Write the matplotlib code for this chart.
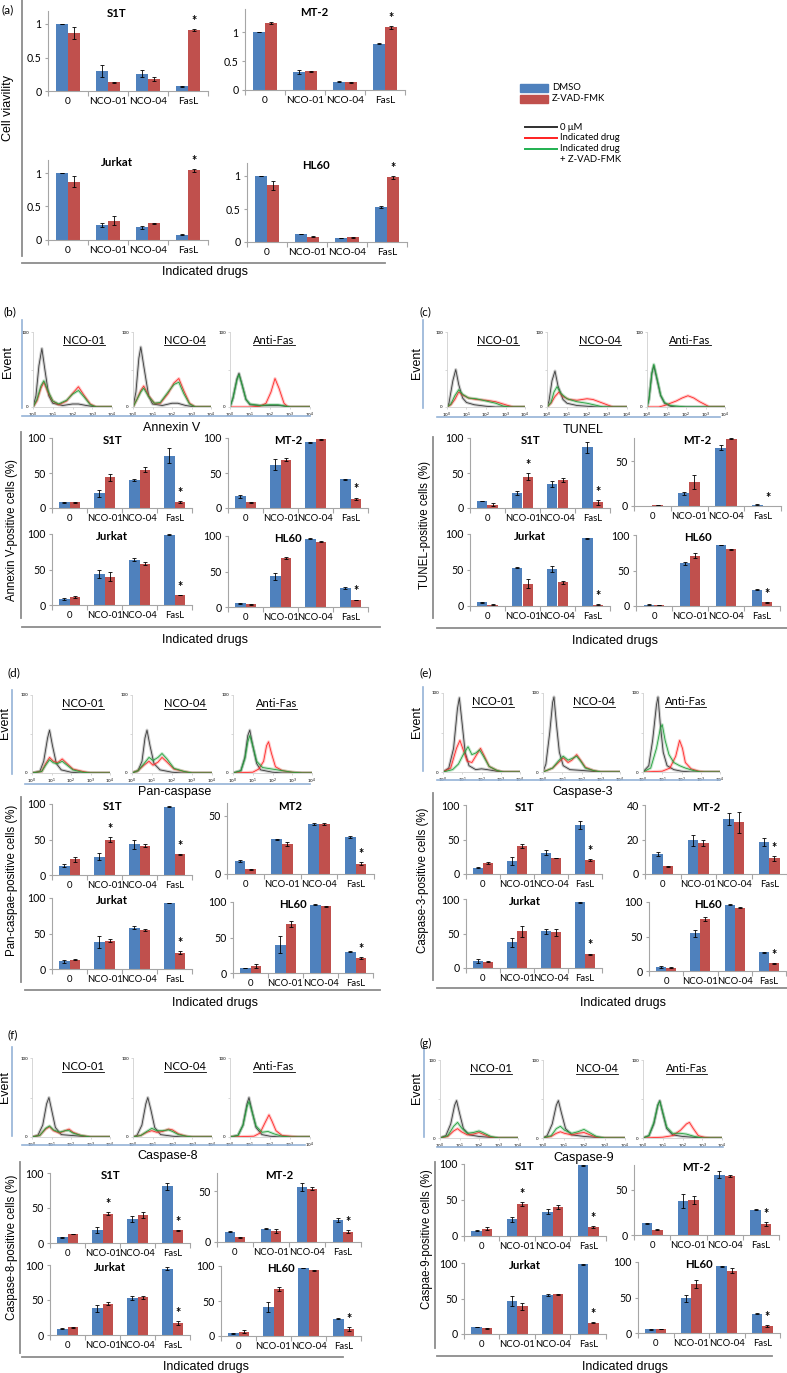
import numpy as np
import matplotlib
matplotlib.use("Agg")
import matplotlib.pyplot as plt
from matplotlib.lines import Line2D
from matplotlib.patches import Rectangle

# ---------------- data ----------------
drugs = ["0", "NCO-01", "NCO-04", "FasL"]
cells = ["S1T", "MT-2", "Jurkat", "HL60"]
hist_cols = ["NCO-01", "NCO-04", "Anti-Fas"]

# (a) cell viability
via_dmso = {"S1T": [1.00, 0.30, 0.26, 0.07], "MT-2": [1.00, 0.31, 0.14, 0.80],
            "Jurkat": [1.00, 0.23, 0.19, 0.08], "HL60": [1.00, 0.12, 0.06, 0.53]}
via_dmso_err = {"S1T": [0.005, 0.09, 0.05, 0.01], "MT-2": [0.005, 0.03, 0.01, 0.01],
                "Jurkat": [0.005, 0.03, 0.02, 0.01], "HL60": [0.005, 0.005, 0.005, 0.01]}
via_zvad = {"S1T": [0.86, 0.13, 0.18, 0.91], "MT-2": [1.16, 0.32, 0.13, 1.08],
            "Jurkat": [0.87, 0.29, 0.25, 1.04], "HL60": [0.86, 0.08, 0.07, 0.98]}
via_zvad_err = {"S1T": [0.09, 0.005, 0.03, 0.02], "MT-2": [0.02, 0.01, 0.005, 0.02],
                "Jurkat": [0.08, 0.07, 0.01, 0.02], "HL60": [0.07, 0.005, 0.01, 0.02]}

# (b) Annexin V
anx_dmso = {"S1T": [8, 21, 40, 75], "MT-2": [17, 62, 94, 41],
            "Jurkat": [9, 44, 64, 99], "HL60": [5, 43, 96, 27]}
anx_dmso_err = {"S1T": [1, 5, 1, 11], "MT-2": [2, 8, 1, 1],
                "Jurkat": [1.5, 6, 2, 0.5], "HL60": [0.5, 5, 0.5, 1]}
anx_zvad = {"S1T": [8, 44, 55, 8], "MT-2": [8, 69, 98, 13],
            "Jurkat": [11, 40, 58, 14], "HL60": [4, 69, 92, 10]}
anx_zvad_err = {"S1T": [1, 5, 4, 1.5], "MT-2": [0.5, 2, 1, 2],
                "Jurkat": [1, 6, 2, 0.5], "HL60": [0.5, 2, 0.5, 0.5]}

# (c) TUNEL
tun_dmso = {"S1T": [10, 22, 34, 87], "MT-2": [0.3, 14, 65, 1.5],
            "Jurkat": [5, 53, 51, 94], "HL60": [2, 60, 86, 23]}
tun_dmso_err = {"S1T": [0.5, 3, 4, 8], "MT-2": [0.2, 2, 3, 0.5],
                "Jurkat": [1, 0.5, 4, 0.5], "HL60": [0.5, 2, 0.5, 1]}
tun_zvad = {"S1T": [5, 45, 40, 8], "MT-2": [0.8, 27, 75, 0.2],
            "Jurkat": [2, 31, 33, 2], "HL60": [1.5, 71, 80, 5]}
tun_zvad_err = {"S1T": [2, 5, 3, 3], "MT-2": [0.2, 8, 1, 0.1],
                "Jurkat": [0.5, 6, 2, 0.5], "HL60": [0.3, 3, 0.5, 0.5]}

# (d) Pan-caspase
pan_dmso = {"S1T": [13, 26, 43, 96], "MT-2": [11, 30, 43, 32],
            "Jurkat": [11, 38, 58, 93], "HL60": [7, 40, 96, 30]}
pan_dmso_err = {"S1T": [2, 5, 6, 0.5], "MT-2": [1, 0.5, 1, 1],
                "Jurkat": [2, 9, 2, 0.5], "HL60": [0.5, 12, 0.5, 0.5]}
pan_zvad = {"S1T": [22, 50, 41, 29], "MT-2": [4, 26, 43, 9],
            "Jurkat": [13, 40, 55, 23], "HL60": [10, 69, 94, 21]}
pan_zvad_err = {"S1T": [3, 3, 2, 1], "MT-2": [0.5, 2, 1, 1],
                "Jurkat": [0.5, 2, 2, 2], "HL60": [3, 4, 0.5, 1]}

# (e) Caspase-3
c3_dmso = {"S1T": [9, 19, 31, 71], "MT-2": [11.5, 19.5, 32, 18.5],
           "Jurkat": [10, 37, 53, 95], "HL60": [6, 55, 96, 27]}
c3_dmso_err = {"S1T": [1, 6, 4, 6], "MT-2": [1, 3, 3.5, 2.5],
               "Jurkat": [3, 6, 3, 0.5], "HL60": [1.5, 5, 0.5, 0.5]}
c3_zvad = {"S1T": [16, 40, 23, 20], "MT-2": [4.5, 18, 30, 9],
           "Jurkat": [9, 53, 52, 20], "HL60": [5, 75, 92, 11]}
c3_zvad_err = {"S1T": [1, 3, 0.5, 1.5], "MT-2": [0.3, 2, 6, 1.5],
               "Jurkat": [1, 8, 5, 1], "HL60": [0.5, 3, 1, 0.5]}

# (f) Caspase-8
c8_dmso = {"S1T": [8, 19, 34, 81], "MT-2": [10, 13, 54, 22],
           "Jurkat": [9, 38, 53, 95], "HL60": [4, 42, 97, 25]}
c8_dmso_err = {"S1T": [1, 4, 4, 5], "MT-2": [0.5, 0.5, 4, 2],
               "Jurkat": [0.5, 5, 3, 2], "HL60": [0.5, 7, 0.5, 0.5]}
c8_zvad = {"S1T": [13, 42, 40, 18], "MT-2": [4.5, 11, 52, 10],
           "Jurkat": [11, 45, 54, 17], "HL60": [6, 67, 94, 10]}
c8_zvad_err = {"S1T": [0.5, 2, 4, 0.5], "MT-2": [0.3, 2, 1.5, 1.5],
               "Jurkat": [1, 1.5, 2, 2.5], "HL60": [2, 3, 0.5, 3]}

# (g) Caspase-9
c9_dmso = {"S1T": [7.5, 23, 34, 98], "MT-2": [13, 38, 67, 28],
           "Jurkat": [10, 47, 55, 98], "HL60": [5, 49, 94, 27]}
c9_dmso_err = {"S1T": [0.5, 3, 4, 0.5], "MT-2": [0.5, 8, 4, 0.5],
               "Jurkat": [0.5, 7, 2, 0.5], "HL60": [0.5, 5, 0.5, 0.5]}
c9_zvad = {"S1T": [10, 44, 40, 12], "MT-2": [6, 39, 66, 12],
           "Jurkat": [8, 39, 56, 16], "HL60": [5.5, 69, 88, 10]}
c9_zvad_err = {"S1T": [2, 3, 3, 1.5], "MT-2": [0.5, 4, 1, 2],
               "Jurkat": [0.5, 5, 0.5, 0.5], "HL60": [0.5, 5, 3, 1.5]}

# significance marks: (drug index, series index 0=DMSO 1=Z-VAD)
stars_fasl = {c: [(3, 1)] for c in cells}
stars_both = {"S1T": [(1, 1), (3, 1)], "MT-2": [(3, 1)], "Jurkat": [(3, 1)], "HL60": [(3, 1)]}

# flow cytometry histograms: (log10 intensity, events) for
# k = 0 uM, r = indicated drug, g = drug + Z-VAD-FMK
hist_anx = {
    "NCO-01": {
        "k": [(0, 0), (0.15, 15), (0.3, 55), (0.45, 78), (0.6, 50), (0.8, 15), (1.0, 5), (1.5, 2), (2.0, 4), (2.3, 4), (2.7, 2), (3.2, 0), (4, 0)],
        "r": [(0, 0), (0.2, 8), (0.4, 25), (0.55, 33), (0.75, 20), (1.0, 8), (1.3, 3), (1.7, 8), (2.0, 18), (2.3, 27), (2.6, 15), (2.9, 4), (3.2, 0), (4, 0)],
        "g": [(0, 0), (0.2, 10), (0.4, 28), (0.55, 35), (0.75, 22), (1.0, 8), (1.3, 4), (1.7, 9), (2.0, 17), (2.3, 22), (2.6, 13), (2.9, 3), (3.2, 0), (4, 0)]},
    "NCO-04": {
        "k": [(0, 0), (0.15, 20), (0.3, 65), (0.4, 80), (0.55, 55), (0.8, 15), (1.0, 4), (1.5, 2), (2.0, 5), (2.3, 5), (2.7, 2), (3.2, 0), (4, 0)],
        "r": [(0, 0), (0.2, 10), (0.4, 22), (0.55, 28), (0.8, 15), (1.1, 5), (1.4, 5), (1.8, 18), (2.1, 32), (2.35, 38), (2.6, 22), (2.9, 5), (3.2, 0), (4, 0)],
        "g": [(0, 0), (0.2, 10), (0.4, 20), (0.55, 25), (0.8, 14), (1.1, 5), (1.4, 6), (1.8, 20), (2.1, 30), (2.35, 33), (2.6, 18), (2.9, 4), (3.2, 0), (4, 0)]},
    "Anti-Fas": {
        "k": [(0, 0), (0.15, 12), (0.35, 38), (0.45, 45), (0.6, 30), (0.8, 10), (1.0, 3), (1.5, 2), (2.5, 2), (3.0, 0), (4, 0)],
        "r": [(0, 0), (1.0, 0), (1.5, 1), (1.8, 5), (2.05, 20), (2.25, 38), (2.45, 25), (2.7, 5), (2.9, 0), (4, 0)],
        "g": [(0, 0), (0.15, 12), (0.35, 36), (0.45, 43), (0.6, 30), (0.8, 10), (1.0, 4), (1.5, 2), (2.0, 3), (2.4, 3), (2.8, 1), (3.0, 0), (4, 0)]},
}
hist_tun = {
    "NCO-01": {
        "k": [(0, 0), (0.1, 5), (0.3, 35), (0.45, 50), (0.6, 30), (0.8, 12), (1.0, 6), (1.4, 3), (2.0, 1), (2.5, 0), (4, 0)],
        "r": [(0, 0), (0.2, 3), (0.4, 10), (0.6, 20), (0.8, 16), (1.1, 12), (1.5, 10), (2.0, 9), (2.5, 7), (3.0, 3), (3.4, 0), (4, 0)],
        "g": [(0, 0), (0.2, 4), (0.4, 15), (0.6, 23), (0.8, 17), (1.1, 12), (1.5, 11), (2.0, 8), (2.5, 5), (2.9, 1), (3.2, 0), (4, 0)]},
    "NCO-04": {
        "k": [(0, 0), (0.1, 8), (0.25, 35), (0.4, 48), (0.55, 28), (0.8, 10), (1.0, 5), (1.5, 2), (2.0, 1), (2.5, 0), (4, 0)],
        "r": [(0, 0), (0.2, 5), (0.4, 14), (0.6, 20), (0.8, 14), (1.1, 10), (1.5, 9), (2.0, 11), (2.3, 10), (2.7, 6), (3.0, 3), (3.3, 0), (4, 0)],
        "g": [(0, 0), (0.2, 6), (0.35, 20), (0.5, 27), (0.7, 18), (1.0, 11), (1.5, 7), (2.0, 5), (2.5, 2), (2.8, 0), (4, 0)]},
    "Anti-Fas": {
        "k": [(0, 0), (0.1, 10), (0.25, 45), (0.35, 55), (0.5, 38), (0.7, 15), (0.9, 5), (1.2, 1), (1.5, 0), (4, 0)],
        "r": [(0, 0), (0.6, 0), (0.9, 2), (1.2, 5), (1.5, 8), (1.8, 12), (2.1, 15), (2.4, 12), (2.7, 7), (3.0, 3), (3.2, 0), (4, 0)],
        "g": [(0, 0), (0.1, 10), (0.25, 45), (0.35, 57), (0.5, 40), (0.7, 16), (0.9, 6), (1.2, 2), (1.6, 1), (2.0, 0), (4, 0)]},
}
hist_pan = {
    "NCO-01": {
        "k": [(0, 0), (0.4, 2), (0.6, 15), (0.8, 45), (0.9, 55), (1.05, 35), (1.25, 12), (1.5, 4), (2.0, 1), (2.5, 0), (4, 0)],
        "r": [(0, 0), (0.5, 2), (0.7, 12), (0.9, 20), (1.1, 15), (1.3, 13), (1.55, 18), (1.8, 12), (2.1, 5), (2.6, 2), (3.0, 0), (4, 0)],
        "g": [(0, 0), (0.5, 2), (0.7, 10), (0.9, 17), (1.1, 13), (1.3, 12), (1.55, 15), (1.8, 10), (2.1, 4), (2.6, 1), (3.0, 0), (4, 0)]},
    "NCO-04": {
        "k": [(0, 0), (0.3, 3), (0.5, 15), (0.65, 45), (0.75, 55), (0.9, 35), (1.1, 12), (1.4, 4), (2.0, 1), (2.5, 0), (4, 0)],
        "r": [(0, 0), (0.3, 3), (0.6, 10), (0.85, 15), (1.05, 10), (1.3, 14), (1.5, 20), (1.75, 14), (2.1, 5), (2.6, 2), (3.0, 0), (4, 0)],
        "g": [(0, 0), (0.3, 3), (0.6, 12), (0.85, 20), (1.05, 16), (1.3, 20), (1.5, 25), (1.75, 18), (2.1, 6), (2.6, 2), (3.0, 0), (4, 0)]},
    "Anti-Fas": {
        "k": [(0, 0), (0.4, 3), (0.6, 20), (0.75, 48), (0.85, 55), (1.0, 35), (1.2, 12), (1.4, 4), (2.0, 1), (2.5, 0), (4, 0)],
        "r": [(0, 0), (1.0, 1), (1.3, 5), (1.55, 15), (1.7, 35), (1.8, 40), (1.95, 25), (2.15, 8), (2.5, 3), (3.0, 1), (3.5, 0), (4, 0)],
        "g": [(0, 0), (0.4, 3), (0.6, 18), (0.75, 40), (0.85, 48), (1.0, 35), (1.2, 15), (1.5, 7), (2.0, 5), (2.5, 3), (3.0, 1), (3.5, 0), (4, 0)]},
}
hist_c3 = {
    "NCO-01": {
        "k": [(0, 0), (0.3, 5), (0.55, 30), (0.75, 80), (0.85, 94), (1.0, 60), (1.15, 25), (1.35, 8), (1.7, 3), (2.0, 4), (2.3, 3), (2.8, 1), (3.2, 0), (4, 0)],
        "r": [(0, 0), (0.4, 5), (0.7, 30), (0.88, 40), (1.05, 28), (1.25, 14), (1.5, 12), (1.75, 22), (1.95, 30), (2.15, 20), (2.4, 7), (2.8, 2), (3.1, 0), (4, 0)],
        "g": [(0, 0), (0.5, 3), (0.8, 10), (1.05, 22), (1.3, 32), (1.5, 22), (1.7, 24), (1.9, 28), (2.1, 20), (2.4, 7), (2.8, 2), (3.1, 0), (4, 0)]},
    "NCO-04": {
        "k": [(0, 0), (0.15, 10), (0.35, 50), (0.5, 88), (0.57, 95), (0.7, 60), (0.85, 25), (1.05, 8), (1.4, 3), (2.0, 2), (2.5, 1), (3.0, 0), (4, 0)],
        "r": [(0, 0), (0.5, 5), (0.8, 12), (1.05, 18), (1.3, 12), (1.5, 15), (1.75, 22), (1.95, 15), (2.2, 6), (2.6, 2), (3.0, 0), (4, 0)],
        "g": [(0, 0), (0.5, 5), (0.8, 14), (1.05, 20), (1.3, 15), (1.5, 17), (1.75, 20), (1.95, 14), (2.2, 5), (2.6, 2), (3.0, 0), (4, 0)]},
    "Anti-Fas": {
        "k": [(0, 0), (0.3, 8), (0.5, 40), (0.7, 85), (0.78, 95), (0.9, 60), (1.05, 25), (1.25, 8), (1.6, 3), (2.0, 1), (2.5, 0), (4, 0)],
        "r": [(0, 0), (1.0, 1), (1.4, 5), (1.7, 20), (1.9, 40), (2.05, 30), (2.2, 12), (2.5, 4), (2.9, 1), (3.2, 0), (4, 0)],
        "g": [(0, 0), (0.4, 5), (0.7, 30), (0.9, 55), (1.0, 60), (1.15, 40), (1.35, 22), (1.6, 12), (1.9, 8), (2.2, 5), (2.6, 2), (3.0, 0), (4, 0)]},
}
hist_c8 = {
    "NCO-01": {
        "k": [(0, 0), (0.3, 2), (0.55, 15), (0.75, 42), (0.87, 50), (1.0, 35), (1.2, 12), (1.5, 3), (2.0, 2), (2.5, 1), (3, 0), (4, 0)],
        "r": [(0, 0), (0.4, 2), (0.7, 10), (0.9, 13), (1.1, 8), (1.4, 5), (1.7, 8), (1.9, 10), (2.1, 6), (2.5, 2), (3, 0), (4, 0)],
        "g": [(0, 0), (0.4, 2), (0.7, 11), (0.9, 14), (1.1, 9), (1.4, 6), (1.7, 8), (1.9, 8), (2.1, 5), (2.5, 2), (3, 0), (4, 0)]},
    "NCO-04": {
        "k": [(0, 0), (0.2, 2), (0.45, 15), (0.65, 42), (0.75, 50), (0.9, 35), (1.1, 12), (1.4, 3), (2.0, 1), (2.5, 0), (4, 0)],
        "r": [(0, 0), (0.4, 2), (0.7, 6), (0.95, 8), (1.2, 6), (1.5, 7), (1.8, 10), (2.0, 9), (2.3, 4), (2.7, 1), (3, 0), (4, 0)],
        "g": [(0, 0), (0.4, 2), (0.7, 7), (0.95, 11), (1.2, 8), (1.5, 8), (1.8, 9), (2.0, 7), (2.3, 3), (2.7, 1), (3, 0), (4, 0)]},
    "Anti-Fas": {
        "k": [(0, 0), (0.4, 2), (0.65, 15), (0.85, 42), (0.95, 50), (1.1, 33), (1.3, 12), (1.6, 3), (2.0, 1), (2.5, 0), (4, 0)],
        "r": [(0, 0), (1.2, 1), (1.5, 5), (1.75, 18), (1.95, 28), (2.1, 20), (2.3, 8), (2.6, 2), (3.0, 1), (3.4, 0), (4, 0)],
        "g": [(0, 0), (0.4, 2), (0.65, 15), (0.85, 38), (0.95, 45), (1.1, 32), (1.3, 14), (1.6, 6), (1.9, 7), (2.2, 4), (2.6, 1), (3.0, 0), (4, 0)]},
}
hist_c9 = {
    "NCO-01": {
        "k": [(0, 0), (0.3, 3), (0.55, 18), (0.75, 42), (0.85, 48), (1.0, 32), (1.2, 12), (1.5, 4), (2.0, 2), (2.5, 1), (3, 0), (4, 0)],
        "r": [(0, 0), (0.4, 2), (0.7, 9), (0.9, 12), (1.1, 8), (1.4, 4), (1.7, 5), (2.0, 7), (2.2, 5), (2.6, 1), (3, 0), (4, 0)],
        "g": [(0, 0), (0.4, 3), (0.7, 15), (0.9, 20), (1.1, 13), (1.4, 6), (1.7, 7), (2.0, 9), (2.2, 7), (2.6, 2), (3, 0), (4, 0)]},
    "NCO-04": {
        "k": [(0, 0), (0.2, 3), (0.45, 18), (0.65, 42), (0.75, 48), (0.9, 32), (1.1, 12), (1.4, 4), (2.0, 2), (2.5, 1), (3, 0), (4, 0)],
        "r": [(0, 0), (0.4, 2), (0.65, 6), (0.85, 8), (1.05, 6), (1.4, 4), (1.7, 6), (2.0, 7), (2.2, 5), (2.6, 1), (3, 0), (4, 0)],
        "g": [(0, 0), (0.4, 3), (0.65, 12), (0.85, 15), (1.05, 10), (1.4, 6), (1.7, 8), (2.0, 11), (2.2, 8), (2.6, 2), (3, 0), (4, 0)]},
    "Anti-Fas": {
        "k": [(0, 0), (0.3, 3), (0.55, 18), (0.75, 42), (0.85, 48), (1.0, 32), (1.2, 12), (1.5, 4), (2.0, 2), (2.5, 1), (3, 0), (4, 0)],
        "r": [(0, 0), (1.0, 1), (1.5, 3), (1.9, 10), (2.2, 18), (2.35, 20), (2.55, 12), (2.8, 3), (3.1, 1), (3.4, 0), (4, 0)],
        "g": [(0, 0), (0.3, 3), (0.55, 20), (0.75, 42), (0.85, 47), (1.0, 33), (1.2, 14), (1.5, 6), (1.9, 6), (2.2, 5), (2.6, 2), (3, 0), (4, 0)]},
}

# ---------------- style ----------------
BLUE = "#4F81BD"
RED = "#C0504D"
AXGRAY = "#a6a6a6"
LINEGRAY = "#8c8c8c"
LIGHTBLUE = "#95b3d7"
CAL = ["Lato", "DejaVu Sans"]
ARIAL = ["Liberation Sans", "DejaVu Sans"]
plt.rcParams["font.family"] = CAL

W, H = 787, 1373
fig = plt.figure(figsize=(W / 100, H / 100), dpi=100)
underlined = []


def box(l, t, r, b):
    return fig.add_axes([l / W, 1 - b / H, (r - l) / W, (b - t) / H])


def ftext(x, y, s, **kw):
    return fig.text(x / W, 1 - y / H, s, **kw)


def fline(xs, ys, **kw):
    fig.add_artist(Line2D([x / W for x in xs], [1 - y / H for y in ys],
                          transform=fig.transFigure, **kw))


def bar_chart(geom, step, cell, title, dmso, dmso_err, zvad, zvad_err, stars, xfs=6.8):
    l, r, y0, yref, vref, ymax = geom
    top = y0 - (y0 - yref) / vref * ymax
    ax = box(l, top, r, y0)
    x = np.arange(len(drugs))
    w = 0.29
    ekw = dict(lw=0.6, capsize=1.3, capthick=0.6, ecolor="black")
    ax.bar(x - w / 2, dmso[cell], w, yerr=dmso_err[cell], color=BLUE, error_kw=ekw, zorder=2)
    ax.bar(x + w / 2, zvad[cell], w, yerr=zvad_err[cell], color=RED, error_kw=ekw, zorder=2)
    ax.set_xlim(-0.5, 3.5)
    ax.set_ylim(0, ymax)
    ticks = np.arange(0, ymax + 1e-9, step)
    ax.set_yticks(ticks)
    ax.set_yticklabels([("%g" % t) for t in ticks], fontsize=7.6)
    ax.set_xticks(x)
    ax.set_xticklabels(drugs, fontsize=xfs)
    ax.set_xticks(np.arange(-0.5, 4, 1), minor=True)
    ax.tick_params(axis="x", which="major", length=0, pad=4.5)
    ax.tick_params(axis="x", which="minor", length=3.5, color=AXGRAY, width=0.8)
    ax.tick_params(axis="y", length=2.5, color=AXGRAY, width=0.8, pad=2)
    for s in ("top", "right"):
        ax.spines[s].set_visible(False)
    for s in ("left", "bottom"):
        ax.spines[s].set_color(AXGRAY)
        ax.spines[s].set_linewidth(0.8)
    ax.patch.set_alpha(0)
    ax.text(0.43, 0.96, title, transform=ax.transAxes, ha="center", va="center",
            fontsize=8.2, weight="bold")
    for ci, si in stars.get(cell, []):
        vals = zvad if si == 1 else dmso
        errs = zvad_err if si == 1 else dmso_err
        ax.annotate("*", (ci + (w / 2 if si == 1 else -w / 2), vals[cell][ci] + errs[cell][ci]),
                    xytext=(0, 1.5), textcoords="offset points", ha="center", va="bottom",
                    fontsize=9, weight="bold", annotation_clip=False)
    return ax


def bar_block(geoms, steps, titles, dmso, dmso_err, zvad, zvad_err, stars, xfs=6.8):
    for cell in cells:
        bar_chart(geoms[cell], steps.get(cell, 50), cell, titles.get(cell, cell),
                  dmso, dmso_err, zvad, zvad_err, stars, xfs)


def hist_block(data, y0, y100, xs_px, tx=(0.65, 0.66, 0.55)):
    for col, (l, r), fx in zip(hist_cols, xs_px, tx):
        ax = box(l, y100, r, y0)
        for key, color in (("k", "#3a3a3a"), ("r", "#ff2a2a"), ("g", "#23a03c")):
            pts = np.array(data[col][key], dtype=float)
            xv = 10 ** pts[:, 0]
            ax.plot(xv, pts[:, 1], color=color, lw=2.2, alpha=0.25, solid_joinstyle="round")
            ax.plot(xv, pts[:, 1], color=color, lw=0.6)
        ax.set_xscale("log")
        ax.set_xlim(1, 1e4)
        ax.set_ylim(0, 100)
        ax.minorticks_off()
        ax.set_xticks([1, 10, 100, 1000, 10000])
        ax.set_xticklabels([r"$10^{%d}$" % k for k in range(5)], fontsize=3.2)
        ax.set_yticks([0, 50, 100])
        ax.set_yticklabels(["0", "", "100"], fontsize=3.2)
        ax.tick_params(length=1.5, width=0.5, color="#c8c8c8", pad=1.5)
        for s in ("top", "right"):
            ax.spines[s].set_visible(False)
        for s in ("left", "bottom"):
            ax.spines[s].set_color("#d0d0d0")
            ax.spines[s].set_linewidth(0.6)
        ax.patch.set_alpha(0)
        t = ax.text(fx, 0.89, col, transform=ax.transAxes, ha="center", va="center", fontsize=8)
        underlined.append(t)


# ---------------- (a) viability ----------------
ftext(2, 10, "(a)", fontsize=8.5, va="center")
fline([22, 22], [0, 256], color=LINEGRAY, lw=1.3)
fline([22, 385], [263, 263], color=LINEGRAY, lw=1.3)
ftext(8, 108, "Cell viavility", rotation=90, ha="center", va="center", fontsize=9, family=ARIAL)
ftext(205, 272, "Indicated drugs", ha="center", va="center", fontsize=9, family=ARIAL)
geom_a = {"S1T": (48, 208, 91, 24, 1, 1.2), "MT-2": (245, 405, 90, 32, 1, 1.4),
          "Jurkat": (48, 208, 240, 173, 1, 1.2), "HL60": (247, 407, 242, 176, 1, 1.2)}
bar_block(geom_a, {c: 0.5 for c in cells}, {}, via_dmso, via_dmso_err, via_zvad, via_zvad_err,
          stars_fasl, xfs=7.3)

# legend
for i, (lab, col) in enumerate((("DMSO", BLUE), ("Z-VAD-FMK", RED))):
    y = 88 + i * 10.5
    fig.add_artist(Rectangle((520 / W, 1 - (y + 4) / H), 28 / W, 8 / H, color=col,
                             transform=fig.transFigure))
    ftext(552, y, lab, fontsize=6.8, va="center")
for i, (lab, col) in enumerate((("0 \u03bcM", "#303030"), ("Indicated drug", "#ff2020"),
                                ("Indicated drug", "#20b050"))):
    y = 127 + i * 10.8
    fline([525, 557], [y, y], color=col, lw=1.4)
    ftext(560, y, lab, fontsize=6.8, va="center")
ftext(560, 159, "+ Z-VAD-FMK", fontsize=6.8, va="center")

# ---------------- (b) Annexin V ----------------
ftext(4, 312, "(b)", fontsize=8.5, va="center")
fline([22, 22], [320, 408], color=LIGHTBLUE, lw=1.2)
fline([22, 310], [416, 416], color=LIGHTBLUE, lw=1.2)
ftext(8, 362, "Event", rotation=90, ha="center", va="center", fontsize=9, family=ARIAL)
ftext(172, 428, "Annexin V", ha="center", va="center", fontsize=9, family=ARIAL)
hist_block(hist_anx, 407, 332, [(33, 112), (133, 211), (230, 310)])
fline([21, 21], [432, 618], color=LINEGRAY, lw=1.3)
fline([22, 380], [627, 627], color=LINEGRAY, lw=1.3)
ftext(12, 530, "Annexin V-positive cells (%)", rotation=90, ha="center", va="center",
      fontsize=8.3, family=ARIAL)
ftext(205, 640, "Indicated drugs", ha="center", va="center", fontsize=9, family=ARIAL)
geom_b = {"S1T": (52, 192, 508, 438, 100, 100), "MT-2": (228, 368, 508, 438, 100, 100),
          "Jurkat": (52, 192, 605, 534, 100, 100), "HL60": (228, 368, 607, 536, 100, 100)}
bar_block(geom_b, {}, {}, anx_dmso, anx_dmso_err, anx_zvad, anx_zvad_err, stars_fasl)

# ---------------- (c) TUNEL ----------------
ftext(419, 312, "(c)", fontsize=8.5, va="center")
fline([423, 423], [320, 408], color=LIGHTBLUE, lw=1.2)
fline([437, 720], [417, 417], color=LIGHTBLUE, lw=1.2)
ftext(417, 363, "Event", rotation=90, ha="center", va="center", fontsize=9, family=ARIAL)
ftext(583, 430, "TUNEL", ha="center", va="center", fontsize=9, family=ARIAL)
hist_block(hist_tun, 407, 332, [(447, 525), (547, 627), (647, 725)])
fline([433, 433], [437, 618], color=LINEGRAY, lw=1.3)
fline([437, 787], [628, 628], color=LINEGRAY, lw=1.3)
ftext(425, 525, "TUNEL-positive cells (%)", rotation=90, ha="center", va="center",
      fontsize=8.3, family=ARIAL)
ftext(615, 641, "Indicated drugs", ha="center", va="center", fontsize=9, family=ARIAL)
geom_c = {"S1T": (470, 610, 508, 438, 100, 100), "MT-2": (634, 781, 506, 461, 50, 76),
          "Jurkat": (470, 610, 606, 534, 100, 100), "HL60": (636, 780, 606, 535, 100, 100)}
bar_block(geom_c, {}, {}, tun_dmso, tun_dmso_err, tun_zvad, tun_zvad_err, stars_both)

# ---------------- (d) Pan-caspase ----------------
ftext(7, 673, "(d)", fontsize=8.5, va="center")
fline([12, 12], [690, 774], color=LIGHTBLUE, lw=1.2)
fline([25, 310], [784, 784], color=LIGHTBLUE, lw=1.2)
ftext(5, 723, "Event", rotation=90, ha="center", va="center", fontsize=9, family=ARIAL)
ftext(175, 792, "Pan-caspase", ha="center", va="center", fontsize=9, family=ARIAL)
hist_block(hist_pan, 773, 695, [(32, 110), (132, 212), (233, 312)])
fline([21, 21], [797, 982], color=LINEGRAY, lw=1.3)
fline([25, 380], [990, 990], color=LINEGRAY, lw=1.3)
ftext(12, 880, "Pan-caspae-positive cells (%)", rotation=90, ha="center", va="center",
      fontsize=8.3, family=ARIAL)
ftext(215, 1003, "Indicated drugs", ha="center", va="center", fontsize=9, family=ARIAL)
geom_d = {"S1T": (52, 192, 875, 804, 100, 100), "MT-2": (227, 374, 874, 816, 50, 61),
          "Jurkat": (52, 192, 969, 898, 100, 100), "HL60": (233, 373, 973, 902, 100, 100)}
bar_block(geom_d, {}, {"MT-2": "MT2"}, pan_dmso, pan_dmso_err, pan_zvad, pan_zvad_err, stars_both)

# ---------------- (e) Caspase-3 ----------------
ftext(419, 673, "(e)", fontsize=8.5, va="center")
fline([423, 423], [687, 771], color=LIGHTBLUE, lw=1.2)
fline([437, 720], [780, 780], color=LIGHTBLUE, lw=1.2)
ftext(417, 722, "Event", rotation=90, ha="center", va="center", fontsize=9, family=ARIAL)
ftext(583, 792, "Caspase-3", ha="center", va="center", fontsize=9, family=ARIAL)
hist_block(hist_c3, 772, 693, [(443, 520), (543, 620), (643, 720)])
fline([433, 433], [793, 980], color=LINEGRAY, lw=1.3)
fline([437, 787], [988, 988], color=LINEGRAY, lw=1.3)
ftext(423, 880, "Caspase-3-positive cells (%)", rotation=90, ha="center", va="center",
      fontsize=8.3, family=ARIAL)
ftext(623, 1003, "Indicated drugs", ha="center", va="center", fontsize=9, family=ARIAL)
geom_e = {"S1T": (466, 602, 874, 805, 100, 100), "MT-2": (645, 787, 874, 805, 40, 40),
          "Jurkat": (466, 602, 968, 899, 100, 100), "HL60": (649, 786, 971, 902, 100, 100)}
bar_block(geom_e, {"MT-2": 20}, {}, c3_dmso, c3_dmso_err, c3_zvad, c3_zvad_err, stars_fasl)

# ---------------- (f) Caspase-8 ----------------
ftext(8, 1035, "(f)", fontsize=8.5, va="center")
fline([12, 12], [1047, 1136], color=LIGHTBLUE, lw=1.2)
fline([22, 305], [1145, 1145], color=LIGHTBLUE, lw=1.2)
ftext(5, 1087, "Event", rotation=90, ha="center", va="center", fontsize=9, family=ARIAL)
ftext(168, 1156, "Caspase-8", ha="center", va="center", fontsize=9, family=ARIAL)
hist_block(hist_c8, 1137, 1058, [(32, 110), (133, 212), (230, 310)])
fline([20, 20], [1162, 1353], color=LINEGRAY, lw=1.3)
fline([22, 343], [1357, 1357], color=LINEGRAY, lw=1.3)
ftext(12, 1247, "Caspase-8-positive cells (%)", rotation=90, ha="center", va="center",
      fontsize=8.3, family=ARIAL)
ftext(206, 1367, "Indicated drugs", ha="center", va="center", fontsize=9, family=ARIAL)
geom_f = {"S1T": (50, 190, 1243, 1173, 100, 100), "MT-2": (217, 361, 1242, 1191, 50, 68),
          "Jurkat": (50, 190, 1335, 1265, 100, 100), "HL60": (221, 361, 1336, 1266, 100, 100)}
bar_block(geom_f, {}, {}, c8_dmso, c8_dmso_err, c8_zvad, c8_zvad_err, stars_both)

# ---------------- (g) Caspase-9 ----------------
ftext(419, 1043, "(g)", fontsize=8.5, va="center")
fline([424, 424], [1048, 1137], color=LIGHTBLUE, lw=1.2)
fline([437, 723], [1147, 1147], color=LIGHTBLUE, lw=1.2)
ftext(417, 1088, "Event", rotation=90, ha="center", va="center", fontsize=9, family=ARIAL)
ftext(584, 1158, "Caspase-9", ha="center", va="center", fontsize=9, family=ARIAL)
hist_block(hist_c9, 1138, 1060, [(440, 518), (543, 625), (643, 722)])
fline([435, 435], [1162, 1348], color=LINEGRAY, lw=1.3)
fline([437, 772], [1356, 1356], color=LINEGRAY, lw=1.3)
ftext(427, 1239, "Caspae-9-positive cells (%)", rotation=90, ha="center", va="center",
      fontsize=8.3, family=ARIAL)
ftext(625, 1367, "Indicated drugs", ha="center", va="center", fontsize=9, family=ARIAL)
geom_g = {"S1T": (464, 606, 1236, 1164, 100, 100), "MT-2": (634, 779, 1235, 1190, 50, 78),
          "Jurkat": (464, 606, 1334, 1263, 100, 100), "HL60": (638, 780, 1333, 1262, 100, 100)}
bar_block(geom_g, {}, {}, c9_dmso, c9_dmso_err, c9_zvad, c9_zvad_err, stars_both)

# underline histogram titles
fig.canvas.draw()
rend = fig.canvas.get_renderer()
for t in underlined:
    bb = t.get_window_extent(rend)
    yy = (bb.y0 + 0.5) / H
    fig.add_artist(Line2D([bb.x0 / W, bb.x1 / W], [yy, yy], transform=fig.transFigure,
                          color="black", lw=0.6))

fig.savefig("out.png", dpi=100)
